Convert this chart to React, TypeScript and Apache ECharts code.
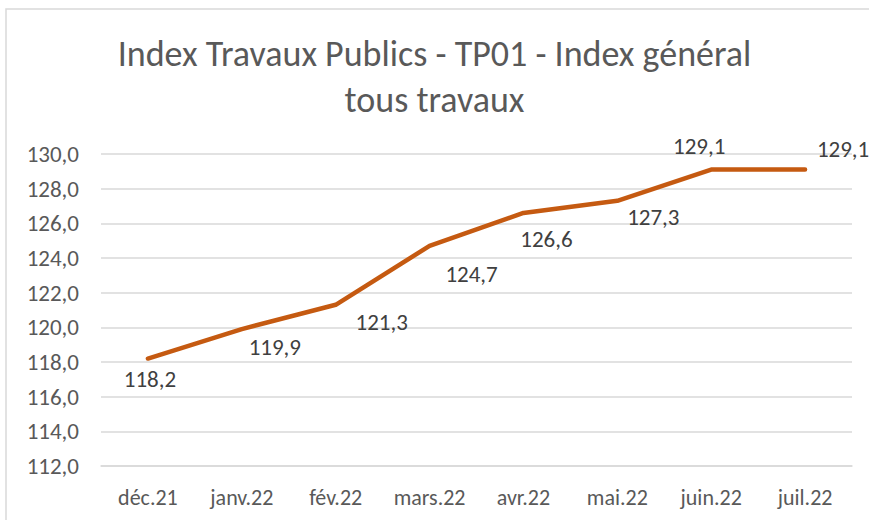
import React, { useEffect, useRef } from "react";
import * as echarts from "echarts";

const categories = ["déc.21", "janv.22", "fév.22", "mars.22", "avr.22", "mai.22", "juin.22", "juil.22"];
const values = [118.2, 119.9, 121.3, 124.7, 126.6, 127.3, 129.1, 129.1];
const labelOffsets: [number, number][] = [
  [2, 20], [33, 18], [46, 17], [42, 28], [23, 26], [36, 16], [-12, -24], [38, -21],
];
const titleText = "Index Travaux Publics - TP01 - Index général\ntous travaux";

const FONT = "Carlito, 'Liberation Sans Narrow', 'Open Sans', sans-serif";
const fmt = (v: number) => v.toFixed(1).replace(".", ",");

export default function App() {
  const ref = useRef<HTMLDivElement>(null);
  useEffect(() => {
    if (!ref.current) return;
    const chart = echarts.init(ref.current, null, { renderer: "svg" });
    chart.setOption({
      animation: false,
      backgroundColor: "#ffffff",
      title: {
        text: titleText,
        left: "center",
        top: 26,
        textStyle: {
          fontFamily: FONT,
          fontSize: 36,
          fontWeight: "normal",
          color: "#595959",
          lineHeight: 46,
        },
      },
      graphic: [
        {
          type: "rect",
          shape: { x: 6, y: 9, width: 900, height: 600 },
          style: { fill: "none", stroke: "#d9d9d9", lineWidth: 1.5 },
          silent: true,
        },
      ],
      grid: { left: 101, right: 17, top: 154, bottom: 54 },
      xAxis: {
        type: "category",
        data: categories,
        boundaryGap: true,
        axisLine: { show: true, lineStyle: { color: "#d9d9d9", width: 1.5 } },
        axisTick: { show: false },
        axisLabel: { color: "#595959", fontSize: 22, fontFamily: FONT, margin: 20, interval: 0 },
      },
      yAxis: {
        type: "value",
        min: 112,
        max: 130,
        interval: 2,
        axisLine: { show: false },
        axisTick: { show: false },
        splitLine: { lineStyle: { color: "#d9d9d9", width: 1.5 } },
        axisLabel: {
          color: "#595959",
          fontSize: 23,
          fontFamily: FONT,
          margin: 22,
          formatter: (v: number) => fmt(v),
        },
      },
      series: [
        {
          type: "line",
          data: values.map((v, i) => ({
            value: v,
            label: { offset: labelOffsets[i] },
          })),
          symbol: "circle",
          symbolSize: 1,
          showSymbol: true,
          itemStyle: { color: "rgba(0,0,0,0)" },
          lineStyle: { color: "#C55A11", width: 4.5, cap: "round", join: "round" },
          label: {
            show: true,
            position: "inside",
            color: "#404040",
            fontSize: 23,
            fontFamily: FONT,
            formatter: (p: any) => fmt(p.value),
          },
        },
      ],
    });
    return () => chart.dispose();
  }, []);
  return (
    <div
      ref={ref}
      style={{ position: "fixed", left: 0, top: 0, width: 869, height: 520 }}
    />
  );
}
